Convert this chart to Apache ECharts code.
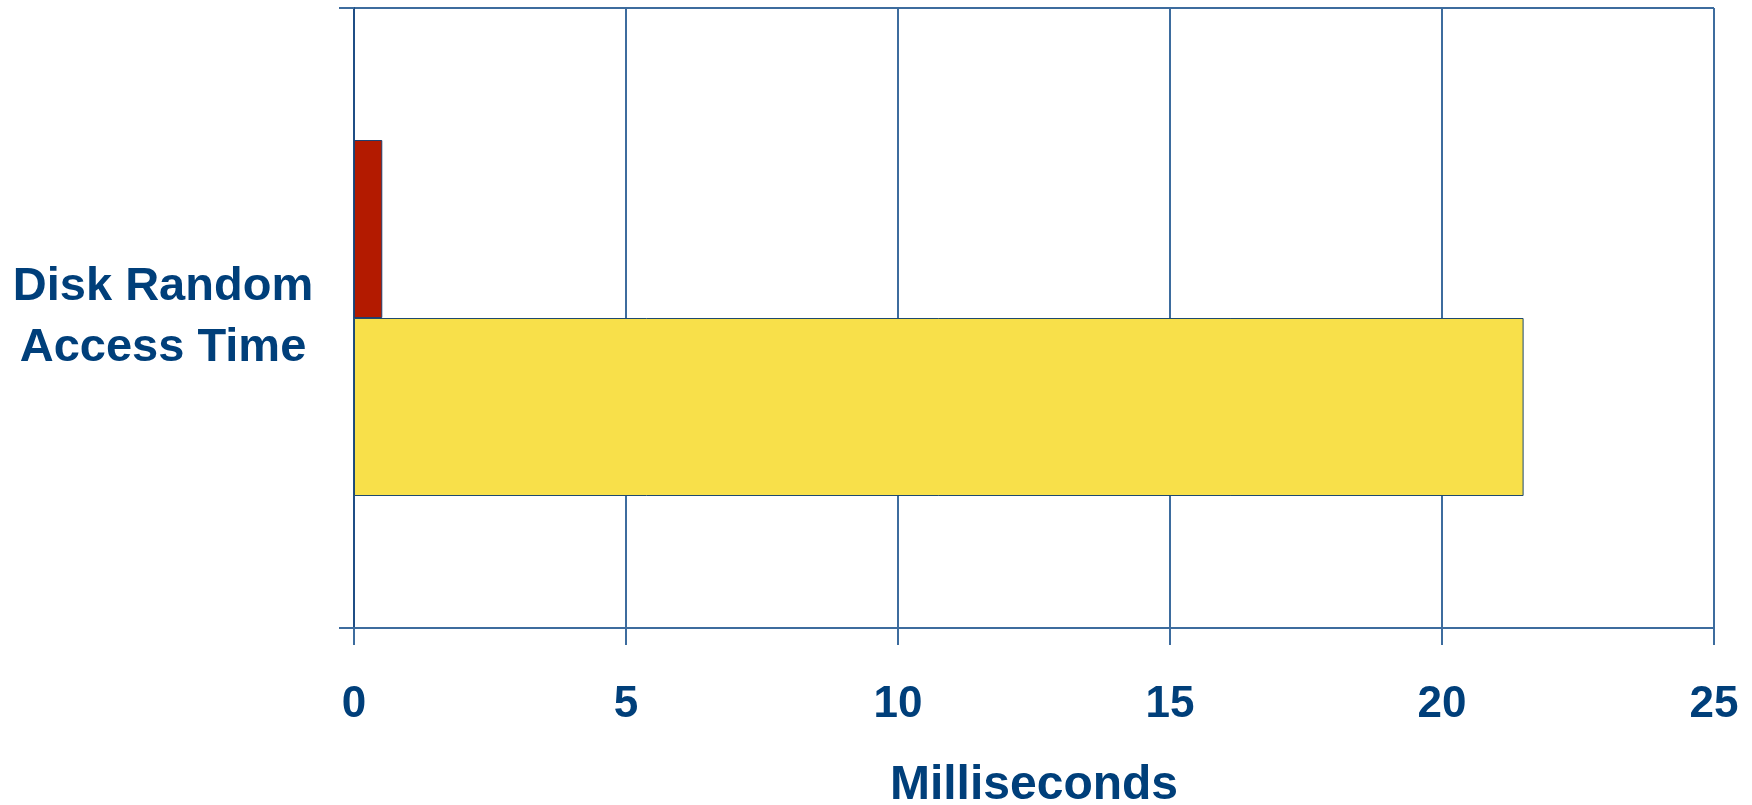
<!DOCTYPE html>
<html>
<head>
<meta charset="utf-8">
<script src="https://cdn.jsdelivr.net/npm/echarts@6/dist/echarts.min.js"></script>
<style>
html,body{margin:0;padding:0;background:#fff;}
#chart{width:1752px;height:805px;}
</style>
</head>
<body>
<div id="chart"></div>
<script>
const categories = ['Disk Random\nAccess Time'];
const yellowValues = [21.5];
const redValues = [0.52];
const xTicks = [0, 5, 10, 15, 20, 25];
const axisTitle = 'Milliseconds';

const textColor = '#003f7a';
const lineColor = '#3d6c9e';
const font = 'Liberation Sans, Arial, sans-serif';

const chart = echarts.init(document.getElementById('chart'));
chart.setOption({
  animation: false,
  backgroundColor: '#ffffff',
  grid: { left: 354, right: 38, top: 8, bottom: 177, containLabel: false, outerBoundsMode: 'none' },
  xAxis: {
    type: 'value',
    min: xTicks[0],
    max: xTicks[xTicks.length - 1],
    interval: 5,
    name: axisTitle,
    nameLocation: 'middle',
    nameGap: 134,
    nameTextStyle: { color: textColor, fontSize: 48, fontWeight: 'bold', fontFamily: font },
    axisLine: { show: true, lineStyle: { color: lineColor, width: 2 } },
    axisTick: { show: true, length: 17, lineStyle: { color: lineColor, width: 2 } },
    axisLabel: { color: textColor, fontSize: 44, fontWeight: 'bold', fontFamily: font, margin: 55 },
    splitLine: { show: true, lineStyle: { color: lineColor, width: 2 } }
  },
  yAxis: {
    type: 'category',
    data: categories,
    axisLine: { show: true, lineStyle: { color: '#1f4e85', width: 2 } },
    axisTick: { show: true, length: 15, lineStyle: { color: lineColor, width: 2 } },
    axisLabel: { color: textColor, fontSize: 47, fontWeight: 'bold', fontFamily: font, align: 'center', margin: 191, lineHeight: 61, padding: [12, 0, 0, 0] },
    splitLine: { show: true, lineStyle: { color: lineColor, width: 2 } }
  },
  series: [
    {
      type: 'bar',
      data: redValues,
      barWidth: 178,
      barGap: '0%',
      itemStyle: { color: '#b31a00', borderColor: '#1f3f6f', borderWidth: 1 }
    },
    {
      type: 'bar',
      data: yellowValues,
      barWidth: 178,
      barGap: '0%',
      itemStyle: { color: '#f8e04a', borderColor: '#1f4a6e', borderWidth: 1 }
    }
  ]
});
</script>
</body>
</html>
